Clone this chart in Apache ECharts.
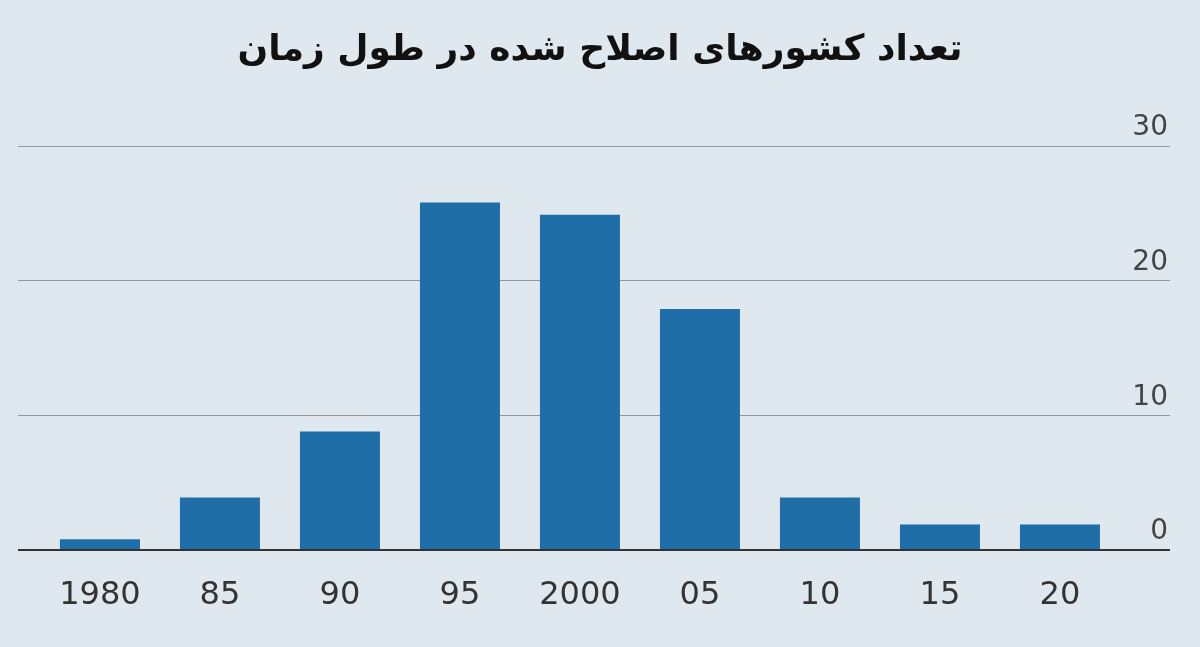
<!DOCTYPE html>
<html><head><meta charset="utf-8">
<script src="https://cdn.jsdelivr.net/npm/echarts@6/dist/echarts.min.js"></script>
<style>html,body{margin:0;padding:0;background:#dfe7ef}#c{width:1200px;height:647px;direction:rtl}</style>
</head><body><div id="c"></div>
<script>
const categories = ['1980','85','90','95','2000','05','10','15','20'];
const values = [0.8, 3.9, 8.8, 25.8, 24.9, 17.9, 3.9, 1.9, 1.9];
const yTicks = [0, 10, 20, 30];
const title = 'تعداد کشورهای اصلاح شده در طول زمان';

const chart = echarts.init(document.getElementById('c'));
const idx = categories.map((_, i) => i);
chart.setOption({
  backgroundColor: '#dfe7ef',
  title: { text: title, left: 'center', top: 28,
    textStyle: { fontFamily: 'DejaVu Sans', fontWeight: 'bold', fontSize: 36, color: '#111' } },
  grid: { left: 18, right: 30, top: 146, bottom: 97 },
  xAxis: {
    type: 'value', min: -0.683, max: 8.917,
    splitLine: { show: false }, axisTick: { show: false },
    axisLine: { show: false },
    axisLabel: { customValues: idx, formatter: v => categories[Math.round(v)] ?? '',
      fontFamily: 'DejaVu Sans', fontSize: 32, color: '#333', margin: 30 }
  },
  yAxis: {
    type: 'value', min: 0, max: 30, interval: 10, position: 'right',
    axisLine: { show: false }, axisTick: { show: false },
    splitLine: { lineStyle: { color: '#8f9aa5', width: 1 } },
    axisLabel: { inside: true, verticalAlign: 'bottom', align: 'right', margin: 2,
      padding: [0, 0, 4, 0], fontFamily: 'DejaVu Sans', fontSize: 28, color: '#444',
      formatter: v => yTicks.includes(v) ? String(v) : '' }
  },
  series: [{
    type: 'bar', barWidth: 80,
    data: values.map((v, i) => [i, v]),
    itemStyle: { color: '#1f6ea8' },
    markLine: { silent: true, symbol: 'none', label: { show: false },
      lineStyle: { color: '#333', width: 2, type: 'solid' }, data: [{ yAxis: 0 }] }
  }]
});
</script></body></html>
